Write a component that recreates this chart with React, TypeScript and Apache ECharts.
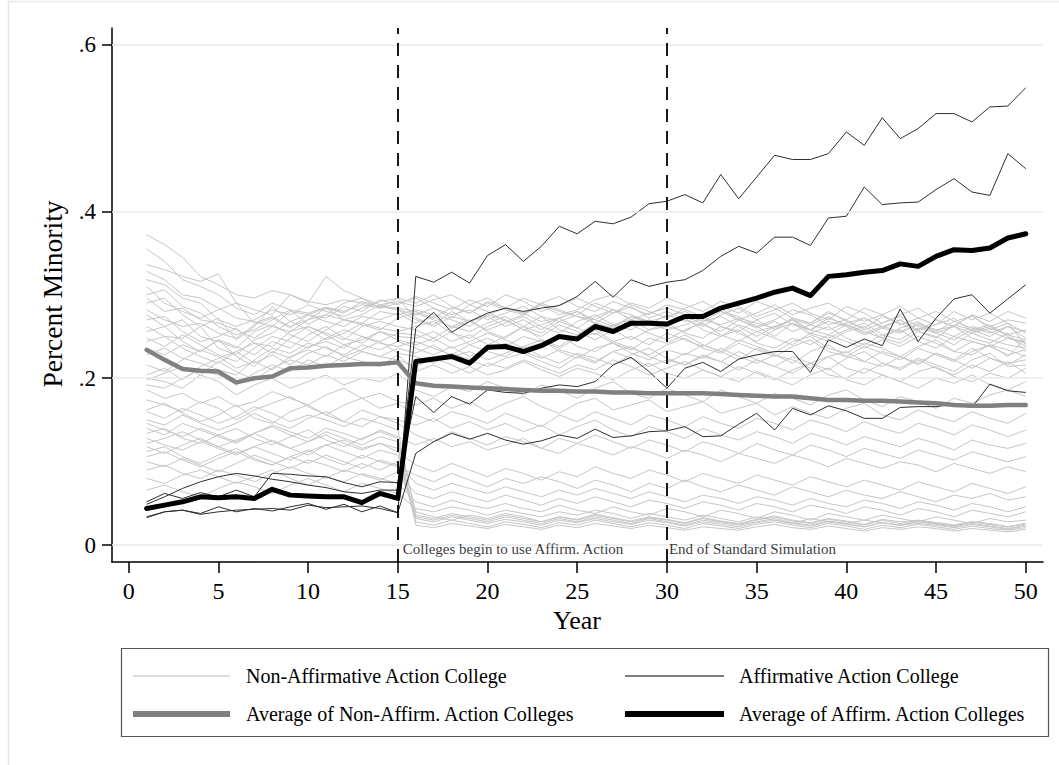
import React, { useEffect, useRef } from "react";
import * as echarts from "echarts";

const FONT = "'Liberation Serif', 'Times New Roman', serif";

const years = Array.from({ length: 50 }, (_, i) => i + 1);
const xTicks = [0, 5, 10, 15, 20, 25, 30, 35, 40, 45, 50];
const yTicks = [0, 0.2, 0.4, 0.6];
const eventYears = [15, 30];
const eventLabels = ["Colleges begin to use Affirm. Action", "End of Standard Simulation"];
const legendLabels = [
  "Non-Affirmative Action College",
  "Affirmative Action College",
  "Average of Non-Affirm. Action Colleges",
  "Average of Affirm. Action Colleges",
];

// Percent minority, in thousandths, years 1..50
const nonAA: number[][] = [
  [372,360,345,322,312,300,296,305,300,292,288,294,290,286,284,280,272,285,278,290,282,276,288,280,274,270,282,276,268,274,280,270,264,272,266,260,270,264,258,266,272,262,256,264,258,262,254,260,252,258],
  [355,340,318,310,300,284,276,290,282,278,285,280,288,284,290,296,284,276,282,270,278,286,274,268,276,290,282,270,278,284,276,268,280,274,262,270,282,276,264,270,258,266,274,262,256,268,260,254,262,248],
  [336,330,322,316,325,290,282,276,300,290,322,305,296,288,292,286,294,300,288,296,284,278,290,298,286,280,292,284,276,288,282,274,286,278,292,284,272,266,278,270,284,276,264,272,280,268,274,262,270,266],
  [328,318,300,296,284,272,268,262,280,276,272,286,280,294,288,298,290,282,294,286,300,292,280,288,296,286,278,290,284,296,288,280,292,286,274,282,290,278,270,286,278,266,276,284,270,262,276,268,280,272],
  [318,312,296,290,270,262,270,282,276,288,280,274,284,292,296,290,300,286,278,292,284,296,288,276,282,294,300,288,280,272,284,292,280,270,278,288,276,284,290,278,268,276,286,272,264,280,270,278,266,240],
  [310,290,280,272,282,290,266,274,262,270,284,278,292,286,282,276,284,272,288,280,268,276,290,282,274,266,278,286,272,280,270,262,276,284,270,258,272,266,280,268,260,274,266,256,270,262,276,258,266,254],
  [300,306,286,278,262,252,258,270,282,264,276,290,296,284,296,272,264,280,268,274,262,270,258,272,280,266,260,274,268,262,276,264,256,270,262,250,266,258,272,264,254,262,270,256,248,264,258,250,262,256],
  [296,280,284,270,266,258,248,262,256,270,276,270,266,280,276,282,276,270,262,276,284,278,268,272,260,274,282,270,264,276,268,274,262,256,270,278,264,258,268,262,272,260,254,266,258,250,262,256,248,244],
  [290,296,276,262,272,246,262,286,268,276,284,270,276,288,282,270,262,274,268,258,266,274,262,254,268,276,264,258,270,262,256,268,274,262,250,262,270,258,252,264,256,248,260,268,254,246,258,264,250,238],
  [282,270,262,266,254,248,264,272,260,276,268,262,274,270,278,266,274,260,268,276,270,258,264,272,280,270,262,274,266,258,264,272,284,270,260,268,256,264,274,262,252,260,270,258,264,272,256,262,252,246],
  [276,262,270,250,244,236,256,264,252,244,258,270,264,258,272,278,270,262,256,266,274,262,254,268,260,252,264,270,258,262,272,258,250,264,256,262,270,254,248,258,266,252,246,260,254,262,248,242,254,232],
  [270,274,256,244,250,260,242,238,256,262,254,246,262,268,262,258,248,262,270,256,248,262,274,258,252,266,258,246,258,266,254,248,262,254,244,258,266,252,244,256,262,248,242,256,250,240,254,246,240,236],
  [262,250,248,262,236,228,246,254,268,258,246,254,266,260,256,262,268,254,248,262,270,258,250,264,256,246,258,264,254,246,258,266,252,244,256,248,240,254,262,248,240,252,258,244,236,250,244,238,248,242],
  [256,262,244,232,246,238,228,244,236,252,262,248,242,256,250,248,256,244,252,240,250,262,246,238,252,258,244,250,240,254,246,238,250,258,242,236,248,240,252,244,236,246,238,250,242,232,244,238,228,234],
  [248,238,252,240,228,220,236,250,244,236,248,258,250,244,254,252,244,256,240,248,238,250,244,236,248,254,242,234,248,242,252,240,232,246,238,230,244,250,236,230,242,236,226,238,246,232,228,240,234,226],
  [244,250,236,226,218,232,242,230,248,262,252,240,246,256,246,240,248,236,244,254,246,236,242,252,238,232,244,236,228,240,248,236,230,242,234,226,238,246,232,226,238,230,222,236,228,220,232,240,226,248],
  [236,228,240,232,246,226,214,232,224,238,244,236,250,242,238,244,236,228,240,232,226,238,246,232,224,236,242,230,222,234,228,240,232,222,236,228,218,232,240,226,220,232,226,216,230,222,236,224,218,222],
  [228,236,224,218,210,204,222,236,230,242,236,228,240,234,244,236,228,238,226,234,242,232,224,234,228,220,232,238,226,218,230,224,236,226,218,228,222,212,226,232,220,214,226,218,230,222,212,224,216,228],
  [216,208,222,234,226,212,220,210,226,234,226,240,232,226,236,230,240,226,232,222,230,238,226,218,230,224,216,228,236,224,216,226,220,232,222,214,226,218,210,224,232,218,212,224,216,208,222,230,214,216],
  [204,212,198,214,224,232,218,228,216,230,238,226,234,244,230,226,218,230,222,214,224,230,220,212,226,218,232,224,214,222,216,228,220,210,222,214,206,218,226,212,206,218,210,222,212,204,216,208,220,206],
  [198,206,214,204,220,208,198,212,222,216,228,220,232,226,222,214,224,216,206,218,212,222,214,206,216,210,222,214,204,212,220,210,202,214,206,198,210,218,204,200,212,204,196,208,214,202,196,206,200,212],
  [192,188,200,210,204,192,206,216,208,222,214,226,220,214,228,208,216,206,214,204,210,220,210,202,212,206,198,210,218,206,200,210,202,196,208,200,192,204,212,198,192,204,196,188,200,194,204,192,186,196],
  [200,196,188,204,196,180,192,200,188,196,204,192,200,196,206,186,178,190,184,196,188,180,192,186,176,188,196,182,176,188,180,172,186,178,170,182,176,168,180,186,174,166,178,172,164,176,170,180,186,178],
  [186,176,182,170,178,166,172,184,176,168,180,188,176,182,172,168,176,164,172,160,170,178,166,158,170,176,162,168,174,160,166,172,158,164,170,156,166,158,152,164,170,156,150,162,154,148,160,152,146,158],
  [174,168,160,172,164,150,162,170,178,166,156,168,176,164,170,156,148,160,154,146,158,150,142,156,148,160,152,144,156,150,142,154,146,140,152,146,138,150,144,136,148,140,134,146,140,132,144,138,130,138],
  [162,170,158,148,156,168,152,146,160,168,156,148,162,154,150,144,152,140,148,138,146,136,144,132,142,150,138,130,142,136,128,140,132,126,136,130,122,134,128,120,130,124,118,128,122,114,126,120,116,122],
  [150,144,156,146,138,146,158,148,140,152,160,148,142,154,146,132,124,136,128,120,130,124,116,128,122,132,124,116,126,120,112,124,118,110,122,114,108,120,114,106,116,110,104,114,108,102,112,106,100,106],
  [140,132,146,138,130,122,134,144,136,128,140,134,126,138,130,120,128,118,124,114,120,128,116,110,122,116,108,118,112,104,114,108,100,110,104,98,108,102,94,104,98,92,100,96,88,98,92,86,94,88],
  [128,120,114,124,116,108,118,126,116,108,120,126,116,122,112,96,88,98,90,82,92,86,78,88,82,94,86,80,90,84,76,86,80,74,84,78,72,82,76,70,78,72,66,76,70,64,74,68,62,70],
  [112,118,106,98,108,116,104,96,106,114,104,96,108,100,94,84,76,86,78,70,80,74,82,76,68,78,72,64,74,68,78,70,64,72,66,60,70,64,58,66,60,56,64,58,52,60,56,62,54,58],
  [100,94,104,96,88,98,108,100,92,102,96,88,98,90,100,74,66,74,68,62,70,64,58,66,60,68,62,56,64,58,52,60,56,50,58,54,48,56,50,46,54,50,44,52,48,42,50,46,40,46],
  [90,96,86,80,90,84,76,86,94,86,80,90,84,78,88,62,56,64,58,52,60,54,48,56,50,58,52,46,54,50,44,52,48,42,50,46,40,48,44,38,46,42,36,44,40,34,42,38,34,40],
  [80,74,84,90,82,74,82,90,80,72,82,76,86,80,74,52,46,54,48,44,50,44,40,48,42,38,46,40,36,44,40,34,42,38,32,40,36,30,38,34,30,36,32,28,34,30,26,32,28,30],
  [66,72,64,58,68,76,70,62,72,80,72,64,74,68,62,44,40,46,42,36,42,38,34,40,36,42,38,32,38,34,30,36,32,28,34,30,26,32,28,26,30,27,24,29,26,23,28,25,22,26],
  [160,152,164,156,146,154,166,158,148,156,150,142,152,146,138,34,30,36,32,28,34,30,26,32,28,34,30,26,32,28,24,30,27,24,28,32,27,24,29,26,22,27,24,28,25,22,26,23,20,24],
  [146,138,130,140,132,124,134,142,132,124,136,128,120,130,124,28,24,30,26,22,28,25,21,27,24,30,26,22,27,24,20,26,23,20,25,28,24,21,26,23,19,24,21,25,22,19,23,20,18,21],
  [134,140,128,122,132,140,128,120,130,138,126,118,128,136,128,40,34,30,36,32,38,34,28,34,30,36,32,28,33,30,26,32,28,25,30,34,29,26,31,28,24,30,26,30,27,24,28,25,22,26],
  [122,128,136,126,118,126,134,124,116,124,132,122,114,122,116,24,21,26,23,20,25,22,19,24,21,26,23,20,24,21,18,22,20,18,22,25,21,19,23,20,17,21,19,22,20,17,20,18,16,19],
  [118,110,120,128,118,110,118,110,102,112,120,112,104,114,108,32,28,34,30,26,31,28,24,30,27,32,28,25,30,27,23,28,25,22,27,30,26,23,28,25,22,27,24,26,24,21,25,22,19,23],
  [106,112,102,94,104,112,102,96,106,98,108,100,92,102,96,36,32,38,34,30,36,32,28,34,31,37,33,29,34,31,27,33,29,26,31,35,30,27,32,29,25,31,28,30,27,24,28,26,22,26],
];

const aaColleges: number[][] = [
  [34,40,42,38,46,40,44,41,46,50,43,49,40,47,39,322,315,327,314,347,360,340,358,382,373,388,385,393,409,412,420,410,444,415,441,467,462,462,469,495,479,512,487,499,517,517,507,525,526,548],
  [49,58,68,76,82,86,83,79,76,72,69,64,62,66,66,260,279,255,268,278,284,280,284,287,298,316,297,318,310,315,318,329,346,358,350,369,369,359,392,394,429,408,410,411,426,439,423,419,469,451],
  [52,62,56,63,58,66,58,86,85,83,82,75,70,76,75,178,159,178,169,186,183,182,188,192,190,196,216,225,208,188,212,219,208,223,228,232,232,207,246,237,247,239,283,244,272,295,300,278,295,312],
  [33,40,42,37,40,42,43,44,42,48,45,46,47,44,39,110,124,134,127,134,126,121,125,132,128,139,129,131,136,137,142,130,131,145,158,138,164,156,167,161,152,152,165,166,166,169,165,193,185,183],
];

const avgNonAA = [234,222,211,209,208,195,200,202,212,213,215,216,217,217,219,194,191,190,189,188,187,186,185,185,184,184,183,183,182,182,182,182,181,180,179,178,178,176,174,174,173,173,172,171,170,168,167,167,168,168];
const avgAA = [44,48,52,58,57,58,56,67,60,59,58,58,51,62,56,220,223,226,218,237,238,232,239,250,247,262,256,266,266,265,274,274,284,290,296,303,308,299,322,324,327,329,337,334,346,354,353,356,368,373];

const toPairs = (arr: number[]) => years.map((yr, i) => [yr, arr[i] / 1000]);

export default function App() {
  const ref = useRef<HTMLDivElement>(null);
  useEffect(() => {
    if (!ref.current) return;
    const chart = echarts.init(ref.current, null, { renderer: "svg" });
    const series: any[] = [];
    series.push({
      type: "line",
      data: [],
      silent: true,
      z: 1,
      markLine: {
        silent: true,
        symbol: ["none", "none"],
        label: { show: false },
        lineStyle: { color: "#e5ecef", width: 1.5, type: "solid" },
        data: yTicks.map((v) => ({ yAxis: v })),
      },
    });
    nonAA.forEach((arr) => {
      series.push({
        type: "line",
        data: toPairs(arr),
        showSymbol: false,
        silent: true,
        z: 2,
        lineStyle: { color: "#c6c6c6", width: 1 },
      });
    });
    series.push({
      type: "line",
      data: [],
      silent: true,
      z: 3,
      markLine: {
        silent: true,
        symbol: ["none", "none"],
        label: { show: false },
        lineStyle: { color: "#000", width: 1.8, type: [13, 9] },
        data: eventYears.map((v) => ({ xAxis: v })),
      },
    });
    aaColleges.forEach((arr) => {
      series.push({
        type: "line",
        data: toPairs(arr),
        showSymbol: false,
        silent: true,
        z: 4,
        lineStyle: { color: "#2e2e2e", width: 1 },
      });
    });
    series.push({
      type: "line",
      data: toPairs(avgNonAA),
      showSymbol: false,
      silent: true,
      z: 5,
      lineStyle: { color: "#808080", width: 4.5, cap: "round", join: "round" },
    });
    series.push({
      type: "line",
      data: toPairs(avgAA),
      showSymbol: false,
      silent: true,
      z: 6,
      lineStyle: { color: "#000", width: 5, cap: "round", join: "round" },
    });
    series.push({
      type: "scatter",
      symbolSize: 0,
      silent: true,
      z: 7,
      data: eventYears.map((yr, i) => ({
        value: [yr, -0.0045],
        label: { distance: i === 0 ? 5 : 2 },
      })),
      label: {
        show: true,
        position: "right",
        formatter: (p: any) => eventLabels[p.dataIndex],
        fontFamily: FONT,
        fontSize: 15,
        color: "#000",
      },
    });

    const legendItems: any[] = [];
    const rows = [676, 714];
    const cols = [
      { x1: 133, x2: 230, tx: 246 },
      { x1: 625, x2: 724, tx: 739 },
    ];
    const styles = [
      { stroke: "#cfcfcf", lineWidth: 1.5 },
      { stroke: "#555", lineWidth: 1.5 },
      { stroke: "#808080", lineWidth: 6 },
      { stroke: "#000", lineWidth: 6 },
    ];
    legendLabels.forEach((lab, i) => {
      const r = rows[Math.floor(i / 2)];
      const c = cols[i % 2];
      legendItems.push({
        type: "line",
        shape: { x1: c.x1, y1: r, x2: c.x2, y2: r },
        style: styles[i],
      });
      legendItems.push({
        type: "text",
        x: c.tx,
        y: r,
        style: {
          text: lab,
          fontFamily: FONT,
          fontSize: 20,
          fill: "#000",
          align: "left",
          verticalAlign: "middle",
        },
      });
    });

    chart.setOption({
      animation: false,
      backgroundColor: "#fff",
      grid: { left: 112, top: 28, width: 931, height: 534 },
      xAxis: {
        type: "value",
        min: -0.93,
        max: 50.96,
        axisLine: { show: true, onZero: false, lineStyle: { color: "#000", width: 1.5 } },
        axisTick: { show: true, customValues: xTicks, length: 11, lineStyle: { color: "#000", width: 1.5 } },
        axisLabel: { customValues: xTicks, fontFamily: FONT, fontSize: 24, color: "#000", margin: 17 },
        splitLine: { show: false },
      },
      yAxis: {
        type: "value",
        min: -0.0201,
        max: 0.6195,
        axisLine: { show: true, onZero: false, lineStyle: { color: "#000", width: 1.5 } },
        axisTick: { show: true, customValues: yTicks, length: 10, lineStyle: { color: "#000", width: 1.5 } },
        axisLabel: {
          customValues: yTicks,
          fontFamily: FONT,
          fontSize: 23,
          color: "#000",
          margin: 16,
          formatter: (v: number) => (Math.abs(v) < 1e-9 ? "0" : v.toFixed(1).replace(/^0/, "")),
        },
        splitLine: { show: false },
      },
      series,
      graphic: [
        {
          type: "rect",
          z: -10,
          shape: { x: 8.5, y: 1.5, width: 1100, height: 800 },
          style: { fill: "none", stroke: "#e4eaee", lineWidth: 1.5 },
        },
        {
          type: "text",
          x: 52,
          y: 294,
          rotation: Math.PI / 2,
          style: {
            text: "Percent Minority",
            fontFamily: FONT,
            fontSize: 27.5,
            fill: "#000",
            align: "center",
            verticalAlign: "middle",
          },
        },
        {
          type: "text",
          x: 577,
          y: 620,
          style: {
            text: "Year",
            fontFamily: FONT,
            fontSize: 26,
            fill: "#000",
            align: "center",
            verticalAlign: "middle",
          },
        },
        {
          type: "rect",
          shape: { x: 121.5, y: 648.5, width: 927, height: 88 },
          style: { fill: "#fff", stroke: "#555", lineWidth: 1.2 },
        },
        ...legendItems,
      ],
    });
    return () => chart.dispose();
  }, []);
  return (
    <div
      ref={ref}
      style={{ position: "absolute", left: 0, top: 0, width: 1059, height: 765, background: "#fff" }}
    />
  );
}
